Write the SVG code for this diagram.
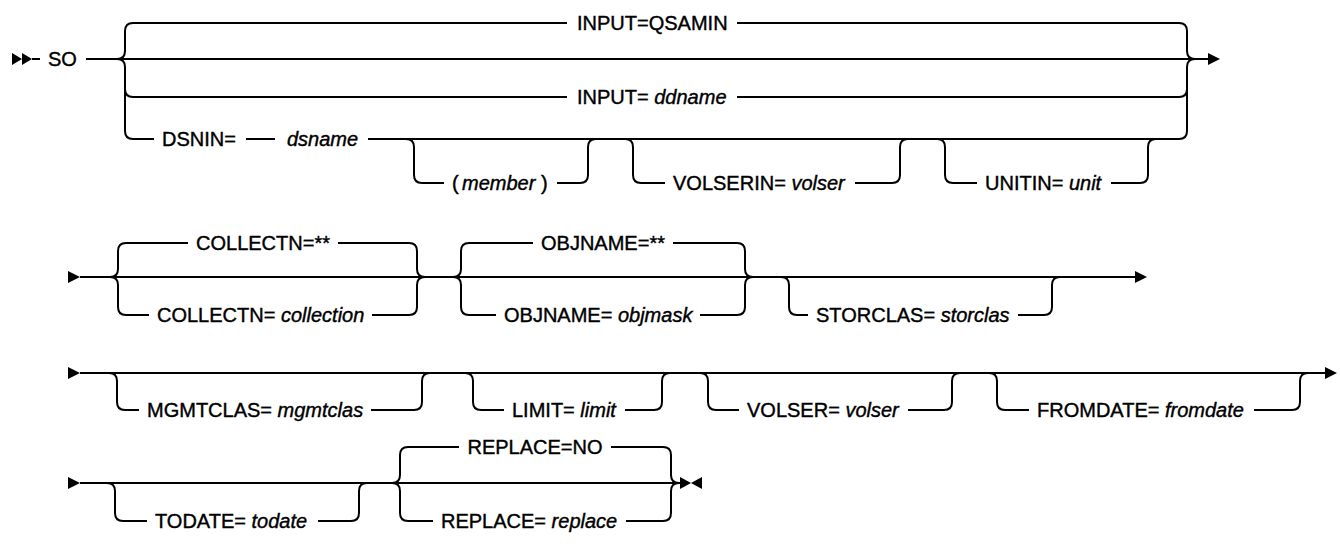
<svg xmlns="http://www.w3.org/2000/svg" width="1340" height="556" viewBox="0 0 1340 556">
<style>
.ln{fill:none;stroke:#000;stroke-width:2}
.ah{fill:#000;stroke:none}
.t{font-family:"Liberation Sans",Arial,Helvetica,sans-serif;font-size:20px;fill:#000;stroke:#000;stroke-width:0.4px}
.i{font-style:italic}
.m{text-anchor:middle}
</style>
<rect width="1340" height="556" fill="#fff"/>
<g id="connectors">
<!-- Row 1 -->
<polygon class="ah" points="12,53 22,59 12,65"/>
<polygon class="ah" points="22,53 32,59 22,65"/>
<path class="ln" d="M32,59 H40"/>
<path class="ln" d="M86,59 H1208"/>
<path class="ln" d="M133,23 Q125,23 125,31 V51 Q125,59 117,59 M117,59 Q125,59 125,67 V131 Q125,139 133,139 M125,89 Q125,97 133,97"/>
<path class="ln" d="M133,23 H567 M737,23 H1179"/>
<path class="ln" d="M133,97 H567 M737,97 H1179"/>
<path class="ln" d="M1179,23 Q1187,23 1187,31 V51 Q1187,59 1195,59 M1195,59 Q1187,59 1187,67 V131 Q1187,139 1179,139 M1179,97 Q1187,97 1187,89"/>
<path class="ln" d="M133,139 H154 M246,139 H275 M368,139 H1179"/>
<path class="ln" d="M406,139 Q414,139 414,147 V175 Q414,183 422,183 H444 M557,183 H580 Q588,183 588,175 V147 Q588,139 596,139"/>
<path class="ln" d="M625,139 Q633,139 633,147 V175 Q633,183 641,183 H665 M855,183 H892 Q900,183 900,175 V147 Q900,139 908,139"/>
<path class="ln" d="M937,139 Q945,139 945,147 V175 Q945,183 953,183 H977 M1111,183 H1140 Q1148,183 1148,175 V147 Q1148,139 1156,139"/>
<polygon class="ah" points="1208,53 1220,59 1208,65"/>
<!-- Row 2 -->
<polygon class="ah" points="68,271 80,277 68,283"/>
<path class="ln" d="M80,277 H1135"/>
<path class="ln" d="M126,243 Q118,243 118,251 V269 Q118,277 110,277 M110,277 Q118,277 118,285 V307 Q118,315 126,315"/>
<path class="ln" d="M126,243 H188 M338,243 H409 M126,315 H149 M372,315 H409"/>
<path class="ln" d="M409,243 Q417,243 417,251 V269 Q417,277 425,277 M425,277 Q417,277 417,285 V307 Q417,315 409,315"/>
<path class="ln" d="M469,243 Q461,243 461,251 V269 Q461,277 453,277 M453,277 Q461,277 461,285 V307 Q461,315 469,315"/>
<path class="ln" d="M469,243 H533 M673,243 H737 M469,315 H496 M700,315 H737"/>
<path class="ln" d="M737,243 Q745,243 745,251 V269 Q745,277 753,277 M753,277 Q745,277 745,285 V307 Q745,315 737,315"/>
<path class="ln" d="M781,277 Q789,277 789,285 V307 Q789,315 797,315 H808 M1018,315 H1044 Q1052,315 1052,307 V285 Q1052,277 1060,277"/>
<polygon class="ah" points="1135,271 1147,277 1135,283"/>
<!-- Row 3 -->
<polygon class="ah" points="68,367 80,373 68,379"/>
<path class="ln" d="M80,373 H1325"/>
<path class="ln" d="M109,373 Q117,373 117,381 V402 Q117,410 125,410 H139 M371,410 H414 Q422,410 422,402 V381 Q422,373 430,373"/>
<path class="ln" d="M465,373 Q473,373 473,381 V402 Q473,410 481,410 H504 M625,410 H654 Q662,410 662,402 V381 Q662,373 670,373"/>
<path class="ln" d="M700,373 Q708,373 708,381 V402 Q708,410 716,410 H739 M908,410 H944 Q952,410 952,402 V381 Q952,373 960,373"/>
<path class="ln" d="M989,373 Q997,373 997,381 V402 Q997,410 1005,410 H1029 M1254,410 H1292 Q1300,410 1300,402 V381 Q1300,373 1308,373"/>
<polygon class="ah" points="1325,367 1337,373 1325,379"/>
<!-- Row 4 -->
<polygon class="ah" points="68,477 80,483 68,489"/>
<path class="ln" d="M80,483 H680"/>
<path class="ln" d="M107,483 Q115,483 115,491 V513 Q115,521 123,521 H147 M318,521 H351 Q359,521 359,513 V491 Q359,483 367,483"/>
<path class="ln" d="M408,447 Q400,447 400,455 V475 Q400,483 392,483 M392,483 Q400,483 400,491 V513 Q400,521 408,521"/>
<path class="ln" d="M408,447 H459 M611,447 H663 M408,521 H433 M626,521 H663"/>
<path class="ln" d="M663,447 Q671,447 671,455 V475 Q671,483 679,483 M679,483 Q671,483 671,491 V513 Q671,521 663,521"/>
<polygon class="ah" points="680,477 691,483 680,489"/>
<polygon class="ah" points="702,477 691,483 702,489"/>
</g>
<g id="so"><text class="t" x="48" y="66">SO</text></g>
<g id="input-qsamin"><text class="t" x="577" y="30">INPUT=QSAMIN</text></g>
<g id="input-ddname"><text class="t" x="577" y="104">INPUT= <tspan class="i">ddname</tspan></text></g>
<g id="dsnin"><text class="t" x="162" y="146">DSNIN=</text><text class="t i" x="287" y="146">dsname</text></g>
<g id="member"><text class="t" x="452" y="190">(</text><text class="t i" x="462" y="190">member</text><text class="t" x="541" y="190">)</text></g>
<g id="volserin"><text class="t" x="673" y="190">VOLSERIN= <tspan class="i">volser</tspan></text></g>
<g id="unitin"><text class="t" x="985" y="190">UNITIN= <tspan class="i">unit</tspan></text></g>
<g id="collectn-default"><text class="t m" x="263" y="250">COLLECTN=**</text></g>
<g id="collectn"><text class="t" x="157" y="322">COLLECTN= <tspan class="i">collection</tspan></text></g>
<g id="objname-default"><text class="t m" x="603" y="250">OBJNAME=**</text></g>
<g id="objname"><text class="t" x="504" y="322">OBJNAME= <tspan class="i">objmask</tspan></text></g>
<g id="storclas"><text class="t" x="816" y="322">STORCLAS= <tspan class="i">storclas</tspan></text></g>
<g id="mgmtclas"><text class="t" x="147" y="417">MGMTCLAS= <tspan class="i">mgmtclas</tspan></text></g>
<g id="limit"><text class="t" x="512" y="417">LIMIT= <tspan class="i">limit</tspan></text></g>
<g id="volser"><text class="t" x="747" y="417">VOLSER= <tspan class="i">volser</tspan></text></g>
<g id="fromdate"><text class="t" x="1037" y="417">FROMDATE= <tspan class="i">fromdate</tspan></text></g>
<g id="todate"><text class="t" x="155" y="528">TODATE= <tspan class="i">todate</tspan></text></g>
<g id="replace-default"><text class="t m" x="535" y="454">REPLACE=NO</text></g>
<g id="replace"><text class="t" x="441" y="528">REPLACE= <tspan class="i">replace</tspan></text></g>
</svg>
